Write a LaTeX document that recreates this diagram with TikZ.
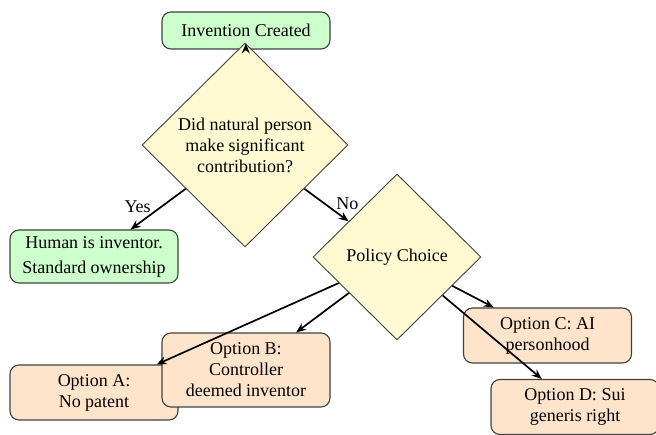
\documentclass[tikz,border=0pt]{standalone}
\usepackage{fontspec}
\setmainfont{Liberation Serif}
\newfontfamily\diagramfont{Liberation Serif}
\usepackage{tikz}
\usetikzlibrary{shapes.geometric,arrows.meta}
\definecolor{startgreen}{HTML}{CCFFCC}
\definecolor{askyellow}{HTML}{FFFAD2}
\definecolor{optpeach}{HTML}{FFE4CC}

\begin{document}
\begin{tikzpicture}[x=1pt,y=-1pt,
		  font=\diagramfont\fontsize{18}{21}\selectfont,
		  box/.style={draw=black!75,line width=1.1pt,rounded corners=9pt,align=center,minimum width=168pt,inner sep=0pt},
		  okbox/.style={box,fill=startgreen},
		  optbox/.style={box,fill=optpeach},
		  decision/.style={diamond,draw=black!75,line width=0.9pt,fill=askyellow,align=center,inner sep=0pt},
		  link/.style={-{Stealth[length=10pt,width=8pt]},line width=1.7pt}]
		  \useasboundingbox (0,0) rectangle (656,435);
		  \node[okbox,minimum height=37pt] (invention) at (246,30.5) {Invention Created};
		  \node[decision,minimum width=206pt,minimum height=204pt] (natural) at (245,145)
		    {Did natural person\\make significant\\contribution?};
		  \node[okbox,minimum height=53pt] (human) at (94,256.5) {Human is inventor.\\[4pt]Standard ownership};
		  \node[decision,minimum width=168pt,minimum height=166pt] (policy) at (397,257) {Policy Choice};
		  \node[optbox,minimum height=55pt] (optA) at (94,392.5) {Option A:\\No patent};
		  \node[optbox,minimum height=74pt] (optB) at (246,370) {Option B:\\Controller\\deemed inventor};
		  \node[optbox,minimum height=55pt] (optC) at (547.5,335.5) {Option C: AI\\personhood};
		  \node[optbox,minimum height=55pt] (optD) at (575,407) {Option D: Sui\\generis right};
		  \draw[link] (invention) -- (natural);
		  \draw[link] (natural) -- node[left,pos=0.45,xshift=-6pt] {Yes} (human);
		  \draw[link] (natural) -- node[right,pos=0.45,xshift=8pt] {No} (policy);
		  \foreach \opt in {optA,optB,optC,optD}
		    \draw[link] (policy) -- (\opt);
		  \end{tikzpicture}
\end{document}
